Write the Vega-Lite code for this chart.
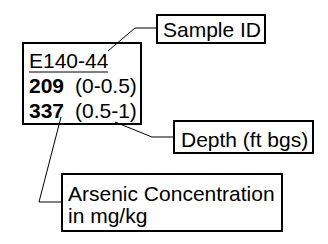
{
  "$schema": "https://vega.github.io/schema/vega-lite/v6.json",
  "width": 328,
  "height": 244,
  "padding": 0,
  "autosize": {"type": "none"},
  "background": "white",
  "config": {"view": {"stroke": null}},
  "datasets": {
    "boxes": [
      {"name": "main", "x": 23, "x2": 141, "y": 43, "y2": 124},
      {"name": "sample", "x": 157, "x2": 265, "y": 15, "y2": 43},
      {"name": "depth", "x": 174, "x2": 313, "y": 121, "y2": 153},
      {"name": "arsenic", "x": 62, "x2": 282, "y": 174, "y2": 231}
    ],
    "leaders": [
      {"id": "sample", "o": 1, "x": 157, "y": 28},
      {"id": "sample", "o": 2, "x": 135, "y": 28},
      {"id": "sample", "o": 3, "x": 108, "y": 51},
      {"id": "depth", "o": 1, "x": 174, "y": 137},
      {"id": "depth", "o": 2, "x": 152, "y": 137},
      {"id": "depth", "o": 3, "x": 115, "y": 122},
      {"id": "arsenic", "o": 1, "x": 62, "y": 202},
      {"id": "arsenic", "o": 2, "x": 39, "y": 202},
      {"id": "arsenic", "o": 3, "x": 61, "y": 117}
    ],
    "underline": [
      {"x": 29, "x2": 108, "y": 72}
    ],
    "labels": [
      {"label": "E140-44", "x": 29, "y": 68, "bold": false},
      {"label": "209", "x": 29, "y": 93, "bold": true},
      {"label": "(0-0.5)", "x": 75, "y": 93, "bold": false},
      {"label": "337", "x": 29, "y": 118, "bold": true},
      {"label": "(0.5-1)", "x": 75, "y": 118, "bold": false},
      {"label": "Sample ID", "x": 163, "y": 37, "bold": false},
      {"label": "Depth (ft bgs)", "x": 181, "y": 147, "bold": false},
      {"label": "Arsenic Concentration", "x": 68, "y": 201, "bold": false},
      {"label": "in mg/kg", "x": 68, "y": 223, "bold": false}
    ]
  },
  "layer": [
    {
      "data": {"name": "boxes"},
      "mark": {"type": "rect", "fill": "white", "stroke": "black", "strokeWidth": 2},
      "encoding": {
        "x": {"field": "x", "type": "quantitative", "scale": {"domain": [0, 328], "nice": false, "zero": false}, "axis": null},
        "x2": {"field": "x2"},
        "y": {"field": "y", "type": "quantitative", "scale": {"domain": [0, 244], "nice": false, "zero": false, "reverse": true}, "axis": null},
        "y2": {"field": "y2"}
      }
    },
    {
      "data": {"name": "leaders"},
      "mark": {"type": "line", "color": "black", "strokeWidth": 1},
      "encoding": {
        "x": {"field": "x", "type": "quantitative", "scale": {"domain": [0, 328], "nice": false, "zero": false}, "axis": null},
        "y": {"field": "y", "type": "quantitative", "scale": {"domain": [0, 244], "nice": false, "zero": false, "reverse": true}, "axis": null},
        "detail": {"field": "id"},
        "order": {"field": "o", "type": "quantitative"}
      }
    },
    {
      "data": {"name": "underline"},
      "mark": {"type": "rule", "color": "black", "strokeWidth": 1},
      "encoding": {
        "x": {"field": "x", "type": "quantitative", "scale": {"domain": [0, 328], "nice": false, "zero": false}, "axis": null},
        "x2": {"field": "x2"},
        "y": {"field": "y", "type": "quantitative", "scale": {"domain": [0, 244], "nice": false, "zero": false, "reverse": true}, "axis": null}
      }
    },
    {
      "data": {"name": "labels"},
      "transform": [{"filter": "!datum.bold"}],
      "mark": {"type": "text", "align": "left", "baseline": "alphabetic", "font": "Liberation Sans", "fontSize": 21, "color": "black"},
      "encoding": {
        "x": {"field": "x", "type": "quantitative", "scale": {"domain": [0, 328], "nice": false, "zero": false}, "axis": null},
        "y": {"field": "y", "type": "quantitative", "scale": {"domain": [0, 244], "nice": false, "zero": false, "reverse": true}, "axis": null},
        "text": {"field": "label"}
      }
    },
    {
      "data": {"name": "labels"},
      "transform": [{"filter": "datum.bold"}],
      "mark": {"type": "text", "align": "left", "baseline": "alphabetic", "font": "Liberation Sans", "fontSize": 21, "fontWeight": "bold", "color": "black"},
      "encoding": {
        "x": {"field": "x", "type": "quantitative", "scale": {"domain": [0, 328], "nice": false, "zero": false}, "axis": null},
        "y": {"field": "y", "type": "quantitative", "scale": {"domain": [0, 244], "nice": false, "zero": false, "reverse": true}, "axis": null},
        "text": {"field": "label"}
      }
    }
  ]
}
